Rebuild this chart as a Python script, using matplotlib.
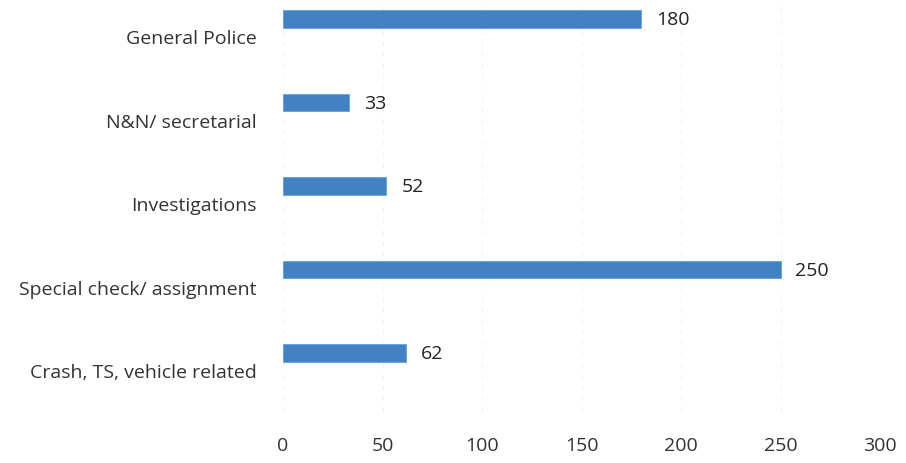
import matplotlib
matplotlib.use("Agg")
import matplotlib.pyplot as plt
import numpy as np

categories = ["General Police", "N&N/ secretarial", "Investigations",
              "Special check/ assignment", "Crash, TS, vehicle related"]
values = [180, 33, 52, 250, 62]
xticks = [0, 50, 100, 150, 200, 250, 300]

plt.rcParams['font.family'] = ['Open Sans', 'DejaVu Sans']

fig = plt.figure(figsize=(9.06, 4.64), dpi=100)
ax = fig.add_axes([283/906, (464-413)/464, 597/906, 413/464])

n = len(categories)
pos = np.arange(n)[::-1]
ax.barh(pos + 0.204, values, height=0.21, color='#4481c2', edgecolor='#5aa6df', linewidth=0.6)
for p, v in zip(pos, values):
    ax.text(v + 7.5, p + 0.204, str(v), va='center', ha='left', fontsize=14, color='#222222')

ax.set_xlim(0, 300)
ax.set_ylim(-0.5, 4 + 37/83.5)
ax.set_xticks(xticks)
ax.set_xticklabels([str(t) for t in xticks], fontsize=14, color='#333333')
ax.set_yticks(pos)
ax.set_yticklabels(categories, fontsize=14, color='#333333')
ax.tick_params(axis='x', length=0, pad=17)
ax.tick_params(axis='y', length=0, pad=19)
for s in ax.spines.values():
    s.set_visible(False)
ax.grid(axis='x', color='#f2f2f2', linewidth=0.8, linestyle=(0, (4, 6)))
ax.set_axisbelow(True)

fig.savefig("out.png", dpi=100)
